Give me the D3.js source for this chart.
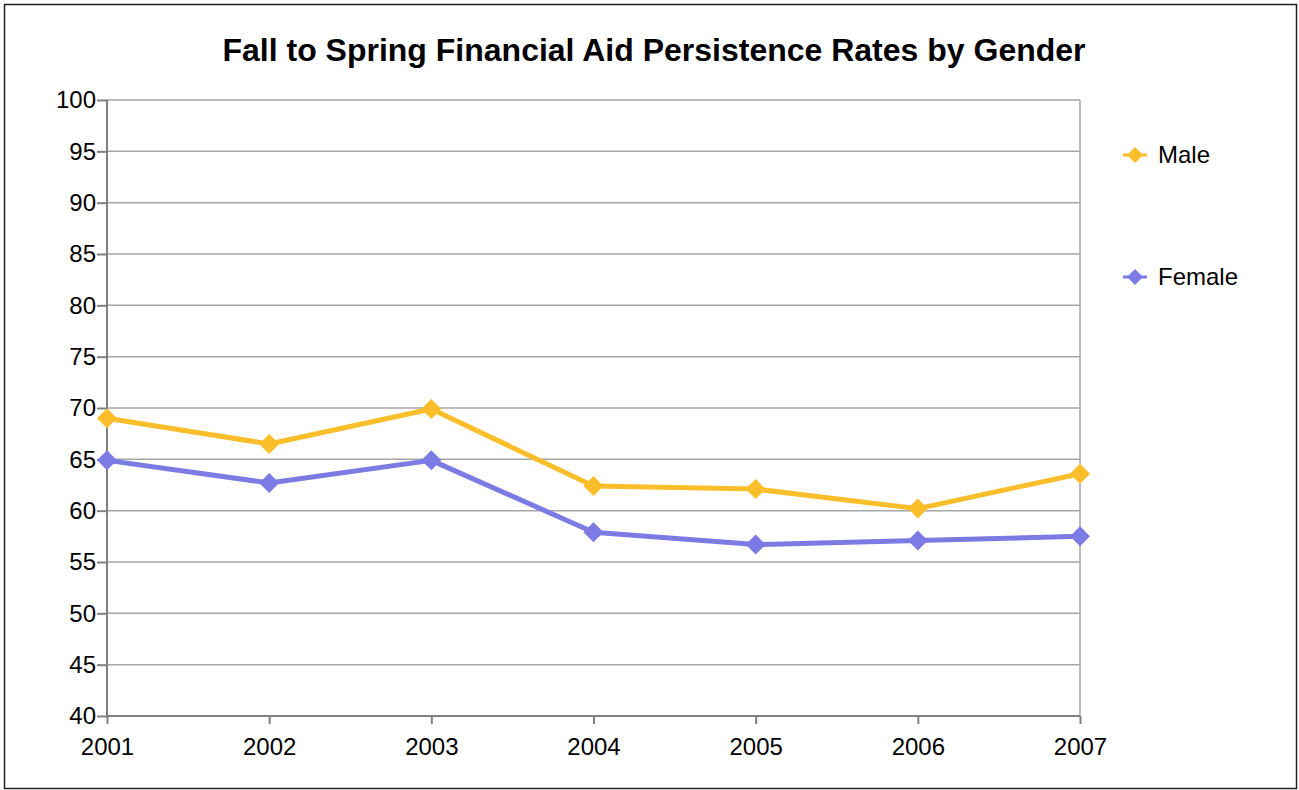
<!DOCTYPE html>
<html>
<head>
<meta charset="utf-8">
<script src="https://cdn.jsdelivr.net/npm/d3@7"></script>
<style>
  body { margin: 0; background: #fff; }
  text { font-family: "Liberation Sans", Arial, sans-serif; fill: #000; }
</style>
</head>
<body>
<script>
var years = ["2001", "2002", "2003", "2004", "2005", "2006", "2007"];
var male = [69.0, 66.5, 69.9, 62.4, 62.1, 60.2, 63.6];
var female = [64.9, 62.7, 64.9, 57.9, 56.7, 57.1, 57.5];
var yTicks = [40, 45, 50, 55, 60, 65, 70, 75, 80, 85, 90, 95, 100];

var seriesNames = ["Male", "Female"];
var seriesColors = ["#f9be2a", "#7b7be3"];

var svgW = 1299;
var svgH = 790;
var margin = { top: 100, right: 219, bottom: 74, left: 107 };
var chartWidth = svgW - margin.left - margin.right;
var chartHeight = svgH - margin.top - margin.bottom;

var svg = d3.select("body")
  .append("svg")
  .attr("width", svgW)
  .attr("height", svgH);

// outer frame
svg.append("rect")
  .attr("x", 4.5).attr("y", 4.5)
  .attr("width", 1292).attr("height", 784)
  .attr("fill", "none")
  .attr("stroke", "#222")
  .attr("stroke-width", 1.5);

svg.append("text")
  .attr("x", 654)
  .attr("y", 61)
  .attr("text-anchor", "middle")
  .style("font-size", "32px")
  .style("font-weight", "bold")
  .text("Fall to Spring Financial Aid Persistence Rates by Gender");

var g = svg.append("g")
  .attr("transform", "translate(" + margin.left + "," + margin.top + ")");

var xScale = d3.scalePoint()
  .domain(years)
  .range([0, chartWidth]);

var yScale = d3.scaleLinear()
  .domain([40, 100])
  .range([chartHeight, 0]);

// gridlines
g.append("g")
  .selectAll("line")
  .data(yTicks)
  .enter()
  .append("line")
  .attr("x1", 0)
  .attr("x2", chartWidth)
  .attr("y1", function (d) { return yScale(d); })
  .attr("y2", function (d) { return yScale(d); })
  .attr("stroke", "#a6a6a6")
  .attr("stroke-width", 1.5);

// right border
g.append("line")
  .attr("x1", chartWidth).attr("x2", chartWidth)
  .attr("y1", 0).attr("y2", chartHeight)
  .attr("stroke", "#a6a6a6")
  .attr("stroke-width", 1.5);

var yAxis = d3.axisLeft(yScale)
  .tickValues(yTicks)
  .tickSize(10)
  .tickPadding(1);

var xAxis = d3.axisBottom(xScale)
  .tickSize(8)
  .tickPadding(14);

var yG = g.append("g").attr("class", "yAxis").call(yAxis);
var xG = g.append("g")
  .attr("class", "xAxis")
  .attr("transform", "translate(0," + chartHeight + ")")
  .call(xAxis);

[yG, xG].forEach(function (a) {
  a.select(".domain").attr("stroke", "#808080").attr("stroke-width", 2);
  a.selectAll(".tick line").attr("stroke", "#808080").attr("stroke-width", 2);
  a.selectAll(".tick text")
    .style("font-size", "24px")
    .style("font-family", "Liberation Sans, Arial, sans-serif")
    .attr("fill", "#000");
});
yG.select(".domain").attr("d", "M0,0V" + chartHeight);
xG.select(".domain").attr("d", "M0,0H" + chartWidth);

function diamond(r) {
  return "M0," + (-r) + "L" + r + ",0L0," + r + "L" + (-r) + ",0Z";
}

var line = d3.line()
  .x(function (d, i) { return xScale(years[i]); })
  .y(function (d) { return yScale(d); });

[male, female].forEach(function (vals, si) {
  g.append("path")
    .datum(vals)
    .attr("d", line)
    .attr("fill", "none")
    .attr("stroke", seriesColors[si])
    .attr("stroke-width", 5)
    .attr("stroke-linejoin", "round");

  g.selectAll(".pt" + si)
    .data(vals)
    .enter()
    .append("path")
    .attr("class", "pt" + si)
    .attr("d", diamond(10))
    .attr("transform", function (d, i) {
      return "translate(" + xScale(years[i]) + "," + yScale(d) + ")";
    })
    .attr("fill", seriesColors[si]);
});

// legend
var legend = svg.append("g");
var legendY = [155, 277];
seriesNames.forEach(function (name, i) {
  var lg = legend.append("g").attr("transform", "translate(1123," + legendY[i] + ")");
  lg.append("line")
    .attr("x1", 0).attr("x2", 24)
    .attr("stroke", seriesColors[i])
    .attr("stroke-width", 3);
  lg.append("path")
    .attr("d", diamond(8))
    .attr("transform", "translate(12,0)")
    .attr("fill", seriesColors[i]);
  lg.append("text")
    .attr("x", 35)
    .attr("y", 8)
    .style("font-size", "24px")
    .text(name);
});
</script>
</body>
</html>
